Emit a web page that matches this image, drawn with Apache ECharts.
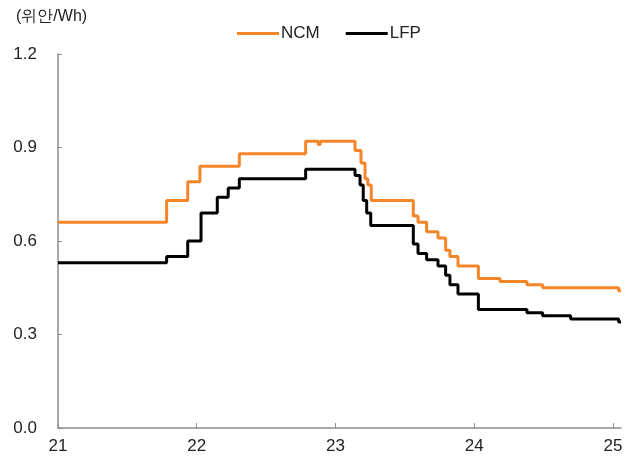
<!DOCTYPE html>
<html>
<head>
<meta charset="utf-8">
<script src="https://cdn.jsdelivr.net/npm/echarts@6/dist/echarts.min.js"></script>
<style>
  html, body { margin: 0; padding: 0; background: #fff; }
  #chart { width: 628px; height: 461px; }
</style>
</head>
<body>
<div id="chart"></div>
<script>
// Battery cell prices (CNY per Wh), dates as fractional years (21 = 2021)
const ncmX = [21.0, 21.783, 21.935, 22.023, 22.307, 22.785, 22.875, 22.89, 23.141, 23.184, 23.213, 23.233, 23.258, 23.561, 23.595, 23.657, 23.739, 23.794, 23.825, 23.883, 24.030, 24.186, 24.380, 24.493, 25.041, 25.058];
const ncmY = [0.66, 0.73, 0.79, 0.84, 0.88, 0.92, 0.91, 0.92, 0.89, 0.85, 0.80, 0.78, 0.73, 0.68, 0.66, 0.63, 0.61, 0.57, 0.55, 0.52, 0.48, 0.47, 0.46, 0.45, 0.44, 0.44];

const lfpX = [21.0, 21.783, 21.935, 22.031, 22.148, 22.227, 22.307, 22.785, 23.141, 23.177, 23.200, 23.225, 23.254, 23.561, 23.595, 23.657, 23.739, 23.794, 23.825, 23.883, 24.030, 24.380, 24.493, 24.695, 25.041, 25.058];
const lfpY = [0.53, 0.55, 0.60, 0.69, 0.74, 0.77, 0.80, 0.83, 0.81, 0.78, 0.73, 0.69, 0.65, 0.59, 0.56, 0.54, 0.52, 0.49, 0.46, 0.43, 0.38, 0.37, 0.36, 0.35, 0.34, 0.34];

const yearTicks = [21, 22, 23, 24, 25];
const unitLabel = '(위안/Wh)';

const pair = (xs, ys) => xs.map((x, i) => [x, ys[i]]);

const chart = echarts.init(document.getElementById('chart'), null, { renderer: 'canvas' });
const axisColor = '#8c8c8c';
const textColor = '#222';
const font = '"Liberation Sans", Arial, sans-serif';

chart.setOption({
  animation: false,
  backgroundColor: '#fff',
  grid: { left: 58, right: 7, top: 54, bottom: 33, containLabel: false },
  graphic: [{
    type: 'text', left: 16, top: 9,
    style: { text: unitLabel, font: '16px ' + font, fill: textColor }
  }],
  legend: {
    top: 20, left: 232,
    itemWidth: 42, itemHeight: 3, itemGap: 26,
    icon: 'rect',
    textStyle: { fontSize: 17, fontFamily: font, color: textColor, padding: [0, 0, 0, -3] },
    data: ['NCM', 'LFP']
  },
  xAxis: {
    type: 'value', min: 21, max: 25.058, interval: 1,
    splitLine: { show: false },
    axisLine: { show: true, lineStyle: { color: axisColor, width: 1.5 } },
    axisTick: { show: true, inside: true, length: 5, customValues: yearTicks, lineStyle: { color: axisColor } },
    axisLabel: { customValues: yearTicks, margin: 10, fontSize: 17, fontFamily: font, color: textColor, formatter: v => String(v) }
  },
  yAxis: {
    type: 'value', min: 0, max: 1.2, interval: 0.3,
    splitLine: { show: false },
    axisLine: { show: true, lineStyle: { color: axisColor, width: 1.5 } },
    axisTick: { show: true, inside: true, length: 4, lineStyle: { color: axisColor } },
    axisLabel: { margin: 21, fontSize: 17, fontFamily: font, color: textColor, formatter: v => v.toFixed(1) }
  },
  series: [
    {
      name: 'NCM', type: 'line', step: 'end', showSymbol: false,
      data: pair(ncmX, ncmY),
      itemStyle: { color: '#F4862A' },
      lineStyle: { color: '#F4862A', width: 3 }
    },
    {
      name: 'LFP', type: 'line', step: 'end', showSymbol: false,
      data: pair(lfpX, lfpY),
      itemStyle: { color: '#000' },
      lineStyle: { color: '#000', width: 3 }
    }
  ]
});
</script>
</body>
</html>
